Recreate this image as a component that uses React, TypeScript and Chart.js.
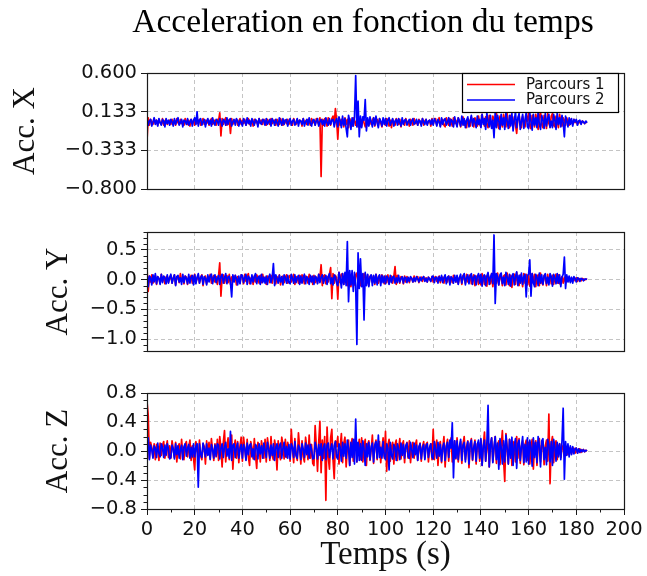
import React, { useEffect, useRef } from "react";
import { Chart, registerables } from "chart.js";

Chart.register(...registerables);

// ---------------- data ----------------
const SAMPLE_STEP = 0.5; // seconds between samples
const seriesNames = ["Parcours 1", "Parcours 2"];

// Acc. X
const p1X = [
  -.22,.06,-.03,.04,.01,-.02,.05,-.01,.03,-.03,.04,.0,-.02,.05,-.03,.02,.04,-.02,.01,.03,
  -.02,.04,-.01,.03,-.03,.05,.0,-.02,.04,-.01,.02,-.03,.05,.01,-.02,.03,-.04,.04,.0,.02,
  -.03,.05,-.01,.02,.04,-.03,.01,.05,-.02,.03,-.01,.04,-.03,.02,.05,-.02,.0,.03,-.03,.04,
  .02,.12,-.16,.05,-.02,.03,.06,-.03,.01,.04,-.13,.05,-.02,.03,.0,.04,-.03,.02,.05,-.02,
  .03,-.01,.04,-.03,.02,.05,-.02,.01,.03,-.04,.04,.0,.02,-.03,.05,-.01,.03,-.02,.04,.01,
  -.03,.04,.01,-.02,.05,-.01,.02,.03,-.03,.04,.0,-.02,.05,.01,-.03,.03,.02,-.01,.04,-.02,
  .03,.0,-.03,.05,.01,-.02,.04,-.01,.03,.02,-.04,.05,.0,.02,-.02,.04,.01,-.03,.05,.0,
  .02,-.03,.05,.01,-.02,.06,-.65,.04,-.03,.05,.02,-.04,.06,.0,-.03,.05,.08,-.02,.17,.03,
  -.2,.06,-.03,.04,.01,-.05,.06,-.02,.04,-.06,.05,.0,-.04,.06,.02,-.03,.05,-.05,.04,.01,
  -.04,.06,.0,-.05,.04,.02,-.03,.05,-.02,.03,.06,-.04,.01,.04,-.03,.05,.0,-.05,.03,.02,
  -.03,.05,.01,-.04,.03,-.06,.04,.0,-.03,.05,.02,-.02,.04,-.05,.03,.01,-.03,.05,-.01,.02,
  -.04,.04,.01,-.03,.05,-.01,.02,-.03,.04,.0,-.02,.05,-.03,.02,.04,-.02,.01,.03,-.04,.05,
  -.02,.03,.05,-.03,.01,.06,-.04,.02,.04,-.03,-.05,.06,.0,-.03,.05,.02,-.04,.06,-.01,.03,
  -.04,.06,.01,-.05,.04,.07,-.03,.02,-.06,.05,.03,-.04,.07,.0,-.05,.06,.02,-.04,.08,-.02,
  -.05,.1,.02,-.04,.07,-.02,-.06,.09,.01,-.05,.08,.03,-.04,.12,-.02,-.07,.08,.01,-.05,.1,
  .03,-.05,.11,-.01,-.06,.09,.02,-.04,.07,-.03,-.13,.05,.1,-.02,-.06,.08,.01,-.05,.09,.02,
  .12,-.04,-.07,.09,.02,-.05,.1,.01,-.08,.07,.13,-.02,-.06,.09,.03,-.07,.11,-.01,-.05,.08,
  .11,-.03,-.05,.08,.02,-.06,.1,.0,-.04,.06,.03,-.03,.06,.01,-.03,.04,.02,-.02,.04,.0,
  .03,-.02,.02,.0,-.01,.02,.01,-.01,.01,.0,
];
const p2X = [
  .05,-.03,.02,.04,-.04,.01,.06,-.02,.03,-.04,.05,.0,-.03,.04,.02,-.05,.05,-.01,.03,-.03,
  .04,.01,-.04,.05,-.02,.03,.06,-.03,.0,.04,-.05,.03,.02,-.02,.05,-.03,.01,.04,-.04,.03,
  .06,-.02,.13,-.04,.03,.05,-.03,.01,.04,-.05,.02,.05,-.02,.03,-.04,.06,.0,-.03,.04,.02,
  -.03,.05,.01,-.04,.04,.02,-.03,.06,-.02,.03,.05,-.04,.01,.04,-.03,.05,.02,-.04,.03,.0,
  -.04,.05,.02,-.03,.06,-.01,.03,-.04,.05,.01,-.03,.04,.02,-.05,.05,.0,-.02,.04,.03,-.03,
  .05,-.02,.01,.04,-.04,.05,.02,-.03,.04,.0,-.04,.06,.01,-.03,.05,-.02,.03,.04,-.04,.02,
  .05,-.03,.02,.04,-.03,.0,.05,-.04,.03,.02,-.02,.05,-.04,.01,.04,-.03,.06,.0,-.04,.03,
  .04,-.03,.02,.05,-.04,.01,.04,-.02,.03,-.04,.06,.0,-.03,.05,-.02,.03,.04,-.05,.02,.05,
  -.05,.07,.02,-.06,.08,-.03,.05,-.07,-.17,.09,.02,-.08,.06,-.04,.07,.57,-.05,.26,-.17,.08,
  -.06,.07,.03,.28,-.1,.06,-.04,.07,.01,-.05,.06,-.03,.08,.0,-.06,.05,.02,-.04,.06,-.02,
  .05,-.04,.03,.06,-.03,.01,.05,-.04,.02,.04,-.03,.05,.0,-.04,.06,-.02,.03,.04,-.03,.01,
  .04,-.03,.02,.05,-.02,.0,.04,-.03,.03,.02,-.04,.05,.01,-.02,.04,-.03,.02,.03,-.02,.04,
  -.03,.05,.02,-.04,.04,.01,-.05,.06,-.02,.03,.05,-.03,.01,.06,-.04,.04,.02,-.05,.07,.0,
  -.05,.06,.02,-.04,.08,-.03,.05,-.06,.03,.07,-.05,.02,.09,-.04,.05,.01,-.06,.08,-.02,.04,
  -.06,.1,-.02,.05,-.08,.12,.01,-.05,.09,-.07,.03,-.18,.13,-.06,.09,.02,-.08,.1,-.03,.06,
  -.08,.12,.02,-.07,.09,-.04,.11,-.1,.03,.13,-.06,.05,.11,-.08,.02,.1,-.07,.04,.12,-.05,
  -.07,.12,.01,-.09,.1,-.03,.06,-.06,.13,-.02,-.08,.09,.03,-.07,.11,-.04,.05,.1,-.06,.02,
  -.06,.1,.03,-.08,.12,-.02,.06,-.05,.09,.0,-.17,.08,.02,-.05,.06,-.02,.05,-.04,.04,.01,
  .04,-.03,.02,.03,-.02,.02,.01,-.01,.02,.0,
];

// Acc. Y
const p1Y = [
  .18,-.2,.06,-.04,.08,-.06,.03,.07,-.08,.05,.02,-.06,.09,-.03,.05,-.07,.04,.06,-.05,.02,
  .07,-.06,.03,.08,-.09,.04,.06,-.05,.1,-.03,.02,-.07,.06,.04,-.08,.05,-.02,.07,-.06,.03,
  .09,-.05,.02,.07,-.06,.04,.08,-.1,.03,.06,-.07,.05,-.02,.09,-.06,.03,.07,-.04,.05,-.08,
  .06,.28,-.28,.05,.08,-.06,.03,.07,-.05,.09,-.08,.04,.06,-.03,.07,-.09,.05,.02,-.06,.08,
  .04,-.07,.09,-.03,.06,.1,-.07,.02,.05,-.08,.06,-.04,.08,.03,-.06,.07,-.05,.09,-.02,.04,
  -.08,.06,.03,-.05,.07,-.06,.09,.02,-.07,.05,-.03,.08,-.09,.04,.06,-.05,.03,.08,-.06,.05,
  .07,-.04,.02,.09,-.08,.05,.03,-.06,.07,-.05,.08,.02,-.07,.06,.04,-.06,.09,-.03,.05,-.08,
  .07,-.05,.04,-.06,.09,.02,.25,-.1,.06,.08,-.07,.05,-.04,.09,.2,-.32,.1,-.06,.07,.03,
  -.33,.12,-.05,.09,.1,-.08,.06,.11,-.1,.04,.09,-.12,.07,.03,-.09,.08,.11,-.07,.05,-.1,
  .08,-.06,.1,.03,-.07,.08,-.1,.05,.07,-.04,.06,-.08,.09,.02,-.06,.07,-.05,.08,.04,-.07,
  .06,-.05,.08,-.07,.03,.06,-.06,.05,.22,-.08,.07,.02,-.06,.05,.03,-.07,.06,-.04,.05,.02,
  -.05,.04,.02,-.04,.06,-.03,.03,.05,-.05,.02,.04,-.03,.05,-.02,.03,-.04,.04,.01,-.03,.05,
  -.04,.03,.05,-.03,.02,.06,-.05,.03,.04,-.06,.05,.01,-.04,.06,-.02,.04,-.05,.07,.02,-.04,
  .06,-.07,.03,.05,-.08,.07,.02,-.06,.09,-.04,.05,.08,-.07,.03,.08,-.1,.06,.02,-.08,.07,
  -.09,.1,.03,-.08,.06,-.11,.09,.02,-.07,.1,-.12,.05,.08,-.06,.11,-.09,.04,.07,-.1,.06,
  .08,-.09,.11,.02,-.1,.07,-.13,.05,.09,-.08,.12,-.04,-.1,.08,.03,-.12,.1,-.06,.09,-.09,
  .08,-.11,.04,.1,-.07,.09,-.12,.03,.08,-.1,.11,-.05,-.09,.07,.02,-.1,.09,-.06,.08,-.07,
  .07,-.08,.03,.09,-.06,.08,-.07,.02,.05,-.06,.04,-.04,.05,-.03,.04,-.03,.03,-.02,.03,-.02,
  .03,-.03,.02,.01,-.02,.02,.01,-.01,.01,.0,
];
const p2Y = [
  .1,-.12,.06,.03,-.09,.08,-.04,.1,-.07,.05,.02,-.08,.09,-.05,.06,.03,-.07,.08,-.06,.04,
  .09,-.06,.02,.08,-.1,.05,.07,-.04,.03,-.08,.09,-.05,.06,.02,-.07,.09,-.06,.04,.07,-.09,
  .08,-.07,.04,.1,-.06,.03,.07,-.08,.05,.02,-.09,.08,-.04,.06,.09,-.07,.03,.08,-.05,.02,
  .07,-.08,.05,.09,-.06,.03,.1,-.07,.04,.06,-.05,-.29,.08,-.04,.07,.02,-.09,.06,-.07,.08,
  .07,-.05,.03,.09,-.08,.06,.02,-.07,.08,-.04,.05,.1,-.07,.03,.06,-.08,.09,-.05,.04,-.06,
  .06,-.08,.04,.09,-.05,.03,.27,-.1,.08,.02,-.06,.07,-.04,.05,-.09,.08,.03,-.06,.07,-.05,
  -.07,.09,.02,-.06,.08,-.05,.03,.07,-.08,.06,-.06,.04,.09,-.07,.05,.02,-.08,.07,-.04,.06,
  -.08,.06,.03,-.07,.09,-.05,.04,.08,-.06,.02,.07,-.08,.05,.1,-.07,.03,-.09,.08,.04,-.06,
  -.1,.12,.03,-.14,.1,-.08,.12,-.1,.64,-.37,.15,-.09,.15,-.2,.12,-.1,-1.09,.45,-.15,.35,
  -.12,.1,-.68,.12,-.1,.09,-.12,.05,.08,-.1,.07,-.06,.09,-.09,.04,.08,-.1,.07,-.05,.06,
  -.07,.06,.03,-.08,.07,-.05,.04,.06,-.06,.03,-.05,.07,-.04,.02,.05,-.06,.04,.03,-.05,.04,
  -.03,.05,.02,-.04,.03,-.03,.05,.01,-.04,.04,-.02,.03,.05,-.03,.02,-.04,.04,.01,-.03,.05,
  .06,-.05,.03,.04,-.06,.05,-.02,.07,-.05,.03,.08,-.07,.04,.06,-.09,.05,.02,-.06,.07,-.04,
  .07,-.08,.04,.09,-.06,.05,.1,-.09,.03,.08,-.07,.06,.1,-.08,.04,.07,-.09,.05,.1,-.06,
  .09,-.11,.05,.08,-.1,.06,.12,-.08,.04,.1,-.07,.75,-.4,.1,.05,-.09,.08,.11,-.07,.04,
  -.1,.12,.04,-.08,.09,-.11,.06,.1,-.09,.05,.13,-.1,.07,-.06,.11,-.08,.05,.09,-.29,.07,
  .09,.33,-.28,.1,-.05,-.12,.09,.04,-.1,.11,-.06,.08,-.08,.06,.1,-.07,.04,-.09,.1,.05,
  -.11,.09,.03,-.07,.1,-.06,.08,-.12,.04,.09,.38,-.15,.08,-.04,.06,-.05,.04,-.06,.05,.02,
  -.04,.03,.02,-.03,.02,.01,-.02,.01,.01,.0,
];

// Acc. Z
const p1Z = [
  .68,.5,-.1,.12,.05,-.08,.1,-.12,.09,.02,-.13,.11,-.06,.08,.13,-.1,.04,.14,-.09,.07,
  -.1,.14,.03,-.09,.12,-.15,.06,.1,-.11,.16,-.04,-.12,.09,.13,-.08,.05,.15,-.13,.07,-.1,
  -.26,.13,.04,-.1,.15,-.07,-.12,.1,.06,-.18,.14,-.05,.12,-.11,.17,.02,-.13,.1,-.08,.16,
  -.13,.2,.04,-.22,.12,.28,-.15,.06,.18,-.12,.09,.22,-.25,.05,.15,-.1,.13,-.16,.07,.19,
  -.14,.19,.03,-.12,.16,-.08,-.2,.13,.05,-.11,.17,-.06,-.24,.12,.08,-.15,.14,.02,-.1,.16,
  -.15,.18,.05,-.13,.2,-.07,-.12,.15,.04,-.26,.14,-.05,-.12,.19,.07,-.11,.16,-.09,.12,.03,
  -.14,.3,.02,-.16,.17,-.06,-.13,.25,.05,-.18,.14,-.08,-.15,.19,.04,-.12,.22,-.1,.09,-.17,
  -.2,.35,.05,-.28,.12,.41,-.3,.15,-.1,.2,-.68,.33,-.08,-.25,.18,.3,-.12,-.38,.14,.06,
  .2,-.18,.05,.24,-.16,.1,.19,-.22,.04,.15,-.2,.08,.17,-.14,.12,.18,-.15,.03,.16,-.12,
  .18,-.15,.06,.16,-.2,.09,.14,-.13,.02,.22,-.17,.07,.15,-.12,.1,.13,-.16,.04,.18,-.1,
  .27,-.28,.08,.16,-.14,.05,.12,-.18,.09,.15,-.13,.03,.17,-.11,.08,.14,-.16,.06,.12,-.1,
  .14,-.16,.05,.12,-.1,.08,.15,-.13,.02,.11,-.14,.06,.13,-.1,.09,.12,-.15,.04,.1,-.12,
  .3,-.12,.06,.15,-.2,.08,.13,-.16,.04,.2,-.22,.07,.16,-.14,.1,.18,-.15,.03,.14,-.11,
  .18,-.15,.05,.13,-.17,.09,.2,-.12,.06,.14,-.23,.08,.17,-.13,.04,.15,-.18,.1,.12,-.14,
  .15,-.2,.07,.26,-.14,.05,.16,-.22,.09,.18,-.15,.03,.2,-.17,.08,.14,-.19,.06,.28,-.12,
  -.42,.24,.05,-.18,.16,.09,-.2,.13,.04,-.15,.2,-.1,.17,-.17,.06,.14,-.19,.08,.15,-.13,
  .12,-.18,.06,.16,-.25,.09,.14,-.2,.05,.17,-.15,.08,.13,-.19,.07,.15,-.14,.51,-.45,.1,
  .2,-.16,.05,.14,-.12,.06,.1,-.09,.03,.08,-.07,.04,.06,-.05,.02,.05,-.04,.03,.04,-.03,
  .04,-.03,.02,.03,-.02,.01,.02,-.01,.01,.0,
];
const p2Z = [
  .05,.18,-.12,.08,.02,-.1,.07,.04,-.09,.11,-.03,-.08,.1,.05,-.09,.08,-.06,.1,.03,-.11,
  -.09,.08,.03,-.11,.1,-.05,.07,-.1,.02,.08,-.12,.06,.1,-.07,.04,.09,-.1,.05,-.08,.1,
  -.08,.06,.1,-.5,.1,-.04,-.09,.11,.03,-.08,.1,-.06,.04,-.12,.09,.02,-.1,.08,-.07,.1,
  .08,-.11,.04,.1,-.09,.06,.12,-.07,.03,-.1,.27,-.13,.08,.1,-.09,.05,.11,-.1,.03,.09,
  -.1,.09,.04,-.13,.11,-.05,.08,.1,-.08,.03,-.12,.09,.06,-.11,.1,-.04,.07,-.1,.11,.02,
  -.09,.12,.03,-.1,.08,-.06,.1,-.13,.05,.1,-.09,.07,.11,-.1,.04,.12,-.08,.06,-.1,.09,
  -.11,.1,.05,-.09,.13,-.06,-.1,.08,.04,-.12,.1,.03,-.09,.11,-.05,.08,-.1,.09,.02,-.11,
  -.1,.12,.04,-.11,.09,-.06,.1,-.13,.05,.1,-.12,.08,.11,-.09,.03,.1,-.11,.07,.13,-.08,
  -.11,.1,.05,-.14,.12,-.07,.1,-.1,.15,.04,-.2,.12,-.09,.16,-.18,.44,-.15,.12,-.13,.1,
  -.13,.14,.03,-.2,.1,-.08,.12,-.12,.06,.11,-.15,.08,.13,-.1,.22,-.09,.05,-.1,.13,-.07,
  -.12,.1,.04,-.26,.12,-.06,-.11,.09,.05,-.13,.1,.03,-.12,.11,-.06,.09,-.1,.07,.11,-.08,
  -.1,.12,.02,-.09,.11,-.05,.08,-.13,.06,.1,-.11,.04,.09,-.12,.07,.1,-.09,.05,.1,-.08,
  -.11,.13,.03,-.1,.12,-.07,.09,-.14,.05,.11,-.13,.06,.12,-.09,.15,.04,.39,-.37,.14,-.1,
  .14,-.12,.06,.16,-.13,.08,.12,-.15,.04,.13,-.18,.1,.15,-.12,.05,.13,-.14,.09,.15,-.1,
  .17,-.2,.07,.15,-.14,.1,.63,-.22,.08,.18,-.16,.06,.2,-.12,.11,-.25,.17,.05,-.18,.14,
  -.15,.22,.04,-.18,.16,-.1,.19,-.2,.08,.17,-.24,.1,.15,-.13,.06,.2,-.16,.09,-.15,.18,
  -.18,.15,.05,-.21,.18,-.09,.12,-.16,.2,.07,-.22,.14,.17,-.12,.05,-.19,.16,.08,-.15,.13,
  -.2,.16,.06,-.14,.12,-.08,.1,-.12,.14,.59,-.39,.13,-.06,.1,-.08,.07,-.05,.06,-.04,.03,
  .04,-.03,.03,-.02,.02,-.01,.02,-.01,.01,.0,
];

// ticks
const xTicks = [0, 20, 40, 60, 80, 100, 120, 140, 160, 180, 200];
const xTickLabels = ["0", "20", "40", "60", "80", "100", "120", "140", "160", "180", "200"];
const xMinorTicks = [10, 30, 50, 70, 90, 110, 130, 150, 170, 190];

const yTicksX = [-0.8, -0.333, 0.133, 0.6];
const yLabelsX = ["\u22120.800", "\u22120.333", "0.133", "0.600"];
const yMinorX: number[] = [];

const yTicksY = [-1.0, -0.5, 0.0, 0.5];
const yLabelsY = ["\u22121.0", "\u22120.5", "0.0", "0.5"];
const yMinorY = [-1.2, -1.1, -0.9, -0.8, -0.7, -0.6, -0.4, -0.3, -0.2, -0.1, 0.1, 0.2, 0.3, 0.4, 0.6, 0.7, 0.8];

const yTicksZ = [-0.8, -0.4, 0.0, 0.4, 0.8];
const yLabelsZ = ["\u22120.8", "\u22120.4", "0.0", "0.4", "0.8"];
const yMinorZ = [-0.7, -0.6, -0.5, -0.3, -0.2, -0.1, 0.1, 0.2, 0.3, 0.5, 0.6, 0.7];

const TITLE = "Acceleration en fonction du temps";
const X_TITLE = "Temps (s)";

// ---------------- styles ----------------
const RED = "#ff0000";
const BLUE = "#0000ff";
const GRID = "#c4c4c4";
const AXIS = "#1a1a1a";
const SANS = '"DejaVu Sans", sans-serif';
const SERIF = '"Liberation Serif", serif';
const W = 647;
const PLOT_LEFT = 147;
const PAD_RIGHT = 23;

type Panel = {
  top: number;
  height: number;
  padTop: number;
  xAxisH: number;
  p1: number[];
  p2: number[];
  yMin: number;
  yMax: number;
  yTicks: number[];
  yLabels: string[];
  yMinor: number[];
  yTitle: string;
  yTitlePad: number;
  showX: boolean;
  extra: any[];
};

const framePlugin = {
  id: "frame",
  afterDraw(chart: any) {
    const { ctx, chartArea: a } = chart;
    ctx.save();
    ctx.strokeStyle = AXIS;
    ctx.lineWidth = 1.2;
    ctx.strokeRect(Math.round(a.left) + 0.5, Math.round(a.top) + 0.5, Math.round(a.right - a.left), Math.round(a.bottom - a.top));
    ctx.restore();
  },
};

const minorTicksPlugin = {
  id: "minorTicks",
  afterDraw(chart: any, _args: any, opts: any) {
    const { ctx, chartArea: a } = chart;
    const ys = chart.scales.y;
    const xs = chart.scales.x;
    ctx.save();
    ctx.strokeStyle = AXIS;
    ctx.lineWidth = 1;
    ctx.beginPath();
    (opts.y || []).forEach((v: number) => {
      const py = Math.round(ys.getPixelForValue(v)) + 0.5;
      ctx.moveTo(a.left - 3.5, py);
      ctx.lineTo(a.left, py);
    });
    (opts.x || []).forEach((v: number) => {
      const px = Math.round(xs.getPixelForValue(v)) + 0.5;
      ctx.moveTo(px, a.bottom);
      ctx.lineTo(px, a.bottom + 3.5);
    });
    ctx.stroke();
    ctx.restore();
  },
};

const titlePlugin = {
  id: "figTitle",
  afterDraw(chart: any) {
    const { ctx } = chart;
    ctx.save();
    ctx.fillStyle = "#000";
    ctx.font = `33.5px ${SERIF}`;
    ctx.textAlign = "center";
    ctx.textBaseline = "alphabetic";
    ctx.fillText(TITLE, 363, 32);
    ctx.restore();
  },
};

const legendPlugin = {
  id: "boxLegend",
  afterDraw(chart: any) {
    const { ctx } = chart;
    const colors = [RED, BLUE];
    ctx.save();
    ctx.fillStyle = "#fff";
    ctx.fillRect(462, 73, 156, 39);
    ctx.strokeStyle = "#000";
    ctx.lineWidth = 1.2;
    ctx.strokeRect(462.5, 73.5, 156, 39);
    ctx.font = `15px ${SANS}`;
    ctx.textBaseline = "middle";
    ctx.textAlign = "left";
    chart.data.datasets.forEach((ds: any, i: number) => {
      const y = 84.5 + i * 15.5;
      ctx.strokeStyle = colors[i];
      ctx.lineWidth = 1.5;
      ctx.beginPath();
      ctx.moveTo(467, y);
      ctx.lineTo(515, y);
      ctx.stroke();
      ctx.fillStyle = "#111";
      ctx.fillText(ds.label, 526, y + 0.5);
    });
    ctx.restore();
  },
};

function makeConfig(p: Panel): any {
  const t = p.p1.map((_, i) => i * SAMPLE_STEP);
  const mk = (vals: number[]) => vals.map((v, i) => ({ x: t[i], y: v }));
  return {
    type: "line",
    data: {
      datasets: [
        {
          label: seriesNames[0],
          data: mk(p.p1),
          borderColor: RED,
          borderWidth: 1.7,
          borderJoinStyle: "round",
          pointRadius: 0,
          tension: 0,
          order: 1,
        },
        {
          label: seriesNames[1],
          data: mk(p.p2),
          borderColor: BLUE,
          borderWidth: 1.7,
          borderJoinStyle: "round",
          pointRadius: 0,
          tension: 0,
          order: 0,
        },
      ],
    },
    options: {
      animation: false,
      responsive: false,
      events: [],
      layout: { padding: { top: p.padTop, right: PAD_RIGHT, bottom: 0, left: 0 } },
      plugins: {
        legend: { display: false },
        tooltip: { enabled: false },
        title: { display: false },
        minorTicks: { y: p.yMinor, x: p.showX ? xMinorTicks : [] },
      },
      scales: {
        x: {
          type: "linear",
          min: 0,
          max: 200,
          afterBuildTicks: (s: any) => {
            s.ticks = xTicks.map((v) => ({ value: v }));
          },
          afterFit: (s: any) => {
            s.height = p.xAxisH;
          },
          ticks: {
            display: p.showX,
            autoSkip: false,
            maxRotation: 0,
            padding: 3,
            color: "#111",
            font: { family: SANS, size: 19.5 },
            callback: (_v: any, i: number) => xTickLabels[i],
          },
          grid: {
            color: GRID,
            lineWidth: 1,
            borderDash: [4, 3],
            drawTicks: p.showX,
            tickLength: 6,
            tickColor: AXIS,
            tickWidth: 1,
            tickBorderDash: [],
          },
          border: { display: false, dash: [4, 3] },
          title: p.showX
            ? {
                display: true,
                text: X_TITLE,
                color: "#111",
                font: { family: SERIF, size: 33, lineHeight: 1 },
                padding: { top: 0, bottom: 4 },
              }
            : { display: false },
        },
        y: {
          type: "linear",
          min: p.yMin,
          max: p.yMax,
          afterBuildTicks: (s: any) => {
            s.ticks = p.yTicks.map((v) => ({ value: v }));
          },
          afterFit: (s: any) => {
            s.width = PLOT_LEFT;
          },
          ticks: {
            autoSkip: false,
            padding: 4,
            color: "#111",
            font: { family: SANS, size: 19.5 },
            callback: (_v: any, i: number) => p.yLabels[i],
          },
          grid: {
            color: GRID,
            lineWidth: 1,
            borderDash: [4, 3],
            drawTicks: true,
            tickLength: 6,
            tickColor: AXIS,
            tickWidth: 1,
            tickBorderDash: [],
          },
          border: { display: false, dash: [4, 3] },
          title: {
            display: true,
            text: p.yTitle,
            color: "#111",
            font: { family: SERIF, size: 31, lineHeight: 1 },
            padding: { top: p.yTitlePad, bottom: 0 },
          },
        },
      },
    },
    plugins: [framePlugin, minorTicksPlugin, ...p.extra],
  };
}

const panels: Panel[] = [
  {
    top: 0, height: 215, padTop: 73, xAxisH: 26,
    p1: p1X, p2: p2X, yMin: -0.8, yMax: 0.6,
    yTicks: yTicksX, yLabels: yLabelsX, yMinor: yMinorX,
    yTitle: "Acc. X", yTitlePad: 10, showX: false,
    extra: [titlePlugin, legendPlugin],
  },
  {
    top: 180, height: 200, padTop: 52, xAxisH: 29,
    p1: p1Y, p2: p2Y, yMin: -1.2, yMax: 0.8,
    yTicks: yTicksY, yLabels: yLabelsY, yMinor: yMinorY,
    yTitle: "Acc. Y", yTitlePad: 43, showX: false,
    extra: [],
  },
  {
    top: 340, height: 236, padTop: 53, xAxisH: 67,
    p1: p1Z, p2: p2Z, yMin: -0.8, yMax: 0.8,
    yTicks: yTicksZ, yLabels: yLabelsZ, yMinor: yMinorZ,
    yTitle: "Acc. Z", yTitlePad: 43, showX: true,
    extra: [],
  },
];

function PanelChart({ panel }: { panel: Panel }) {
  const ref = useRef<HTMLCanvasElement | null>(null);
  useEffect(() => {
    if (!ref.current) return;
    const chart = new Chart(ref.current, makeConfig(panel));
    return () => chart.destroy();
  }, [panel]);
  return (
    <canvas
      ref={ref}
      width={W}
      height={panel.height}
      style={{ position: "absolute", left: 0, top: panel.top, width: W, height: panel.height, display: "block" }}
    />
  );
}

export default function App() {
  return (
    <div style={{ position: "fixed", left: 0, top: 0, width: W, height: 576, background: "#fff", overflow: "hidden" }}>
      {panels.map((p, i) => (
        <PanelChart key={i} panel={p} />
      ))}
    </div>
  );
}
